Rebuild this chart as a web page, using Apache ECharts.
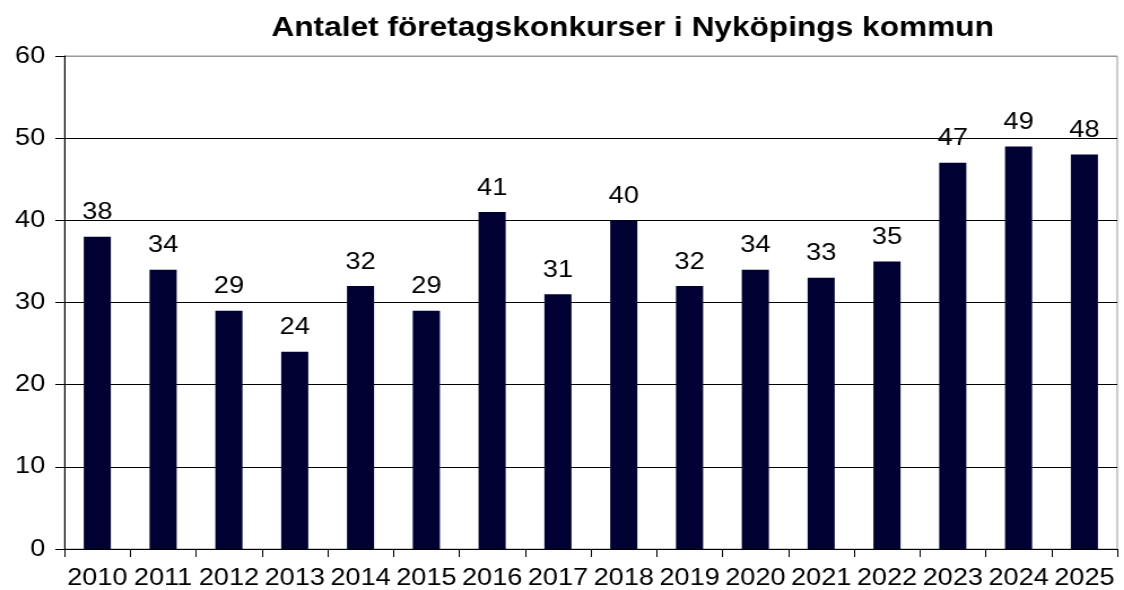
<!DOCTYPE html>
<html>
<head>
<meta charset="utf-8">
<script src="https://cdn.jsdelivr.net/npm/echarts@6/dist/echarts.min.js"></script>
<style>
  html, body { margin: 0; padding: 0; background: #fff; overflow: hidden; }
  /* The chart is laid out slightly narrower and widened horizontally to fill the page */
  #chart { width: 995px; height: 590px; transform: scaleX(1.1297); transform-origin: 0 0; }
</style>
</head>
<body>
<div id="chart"></div>
<script>
// Antal företagskonkurser per år
const years = ['2010','2011','2012','2013','2014','2015','2016','2017','2018','2019','2020','2021','2022','2023','2024','2025'];
const bankruptcies = [38, 34, 29, 24, 32, 29, 41, 31, 40, 32, 34, 33, 35, 47, 49, 48];
const yTicks = [0, 10, 20, 30, 40, 50, 60];

const font = 'Liberation Sans, Arial, sans-serif';
const chart = echarts.init(document.getElementById('chart'));

chart.setOption({
  animation: false,
  backgroundColor: '#fff',
  title: {
    text: 'Antalet företagskonkurser i Nyköpings kommun',
    left: 555,
    textAlign: 'center',
    top: 9,
    textStyle: { fontFamily: font, fontSize: 28, fontWeight: 'bold', color: '#000' }
  },
  grid: {
    left: 57, right: 6, top: 56, bottom: 41,
    show: true, borderColor: '#999', borderWidth: 1, backgroundColor: 'transparent'
  },
  xAxis: {
    type: 'category',
    data: years,
    boundaryGap: true,
    axisLine: { lineStyle: { color: '#000', width: 1 } },
    axisTick: { show: true, length: 8, alignWithLabel: false, interval: 0, lineStyle: { color: '#000' } },
    axisLabel: { fontFamily: font, fontSize: 24, color: '#000', margin: 17, interval: 0 }
  },
  yAxis: {
    type: 'value',
    min: yTicks[0],
    max: yTicks[yTicks.length - 1],
    interval: 10,
    axisLine: { show: true, lineStyle: { color: '#000', width: 1 } },
    axisTick: { show: true, length: 8, lineStyle: { color: '#000' } },
    axisLabel: { fontFamily: font, fontSize: 24, color: '#000', margin: 17 },
    splitLine: {
      show: true,
      lineStyle: { color: yTicks.map((v, i) => i === yTicks.length - 1 ? '#999' : '#000'), width: 1 }
    }
  },
  series: [{
    type: 'bar',
    data: bankruptcies,
    barWidth: 24,
    itemStyle: { color: '#000033' },
    label: {
      show: true,
      position: 'top',
      distance: 12,
      fontFamily: font,
      fontSize: 24,
      color: '#000'
    }
  }]
});
</script>
</body>
</html>
